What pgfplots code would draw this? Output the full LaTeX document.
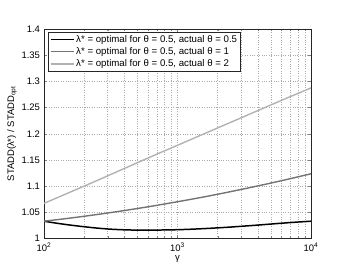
\documentclass[border=0pt]{standalone}
\usepackage{pgfplots}
\pgfplotsset{compat=1.18}
\usepackage{fontspec}
\setmainfont{Liberation Sans}
\definecolor{cA}{gray}{0.0}
\definecolor{cB}{gray}{0.45}
\definecolor{cC}{gray}{0.70}
\begin{document}
\begin{tikzpicture}
\useasboundingbox (-44bp,-29bp) rectangle (299bp,238.5bp);
\begin{axis}[
  at={(0,0)}, anchor=south west,
  scale only axis, width=267bp, height=209.5bp,
  xmode=log, xmin=100, xmax=10000, ymin=1, ymax=1.4,
  xtick={100,1000,10000},
  xticklabels={10\textsuperscript{2},10\textsuperscript{3},10\textsuperscript{4}},
  minor xtick={200,300,400,500,600,700,800,900,2000,3000,4000,5000,6000,7000,8000,9000},
  ytick={1,1.05,1.1,1.15,1.2,1.25,1.3,1.35,1.4},
  yticklabel style={/pgf/number format/assume math mode=true, xshift=-0.5bp},
  xticklabel style={yshift=-1bp},
  every tick label/.append style={font=\fontsize{9.5}{10}\selectfont},
  label style={font=\fontsize{9.5}{10}\selectfont},
  tick align=inside, major tick length=3bp, minor tick length=2bp,
  grid=both,
  major grid style={dotted, gray!65, line width=0.4pt},
  minor grid style={dotted, gray!65, line width=0.4pt},
  axis line style={black!85, line width=0.5pt},
  xlabel={γ}, ylabel={STADD(λ*) / STADD\textsubscript{opt}},
  xlabel style={yshift=3bp},
  ylabel style={yshift=-2bp},
  legend style={at={(0.015,0.988)}, anchor=north west, draw=black!85,
    font=\fontsize{9.7}{11}\selectfont, inner sep=1.5bp, row sep=-0.3bp,
    line width=0.5pt},
  legend cell align=left,
  legend image code/.code={\draw[#1] (0bp,0bp) -- (23bp,0bp);},
]
\addplot[cA, line width=1.5pt, smooth] coordinates {
(100,1.033) (125.9,1.029) (158.5,1.0255) (199.5,1.0225) (251.2,1.0198) (316.2,1.0178)
(398.1,1.0166) (501.2,1.016) (631,1.016) (794.3,1.0163) (1000,1.0168) (1258.9,1.0177)
(1584.9,1.0189) (1995.3,1.0203) (2511.9,1.0219) (3162.3,1.0237) (3981.1,1.0256)
(5011.9,1.0276) (6309.6,1.0296) (7943.3,1.0314) (10000,1.033)};
\addlegendentry{λ* = optimal for θ = 0.5, actual θ = 0.5}
\addplot[cB, line width=1.4pt, smooth] coordinates {
(100,1.033) (158.5,1.0391) (251.2,1.0459) (398.1,1.0533) (631,1.0614) (1000,1.0702)
(1584.9,1.0795) (2511.9,1.0896) (3981.1,1.1003) (6309.6,1.1116) (10000,1.1236)};
\addlegendentry{λ* = optimal for θ = 0.5, actual θ = 1}
\addplot[cC, line width=1.4pt, smooth] coordinates {
(100,1.067) (158.5,1.089) (251.2,1.111) (398.1,1.1335) (631,1.156) (1000,1.178)
(1584.9,1.200) (2511.9,1.222) (3981.1,1.244) (6309.6,1.266) (10000,1.2875)};
\addlegendentry{λ* = optimal for θ = 0.5, actual θ = 2}
\end{axis}
\end{tikzpicture}
\end{document}
